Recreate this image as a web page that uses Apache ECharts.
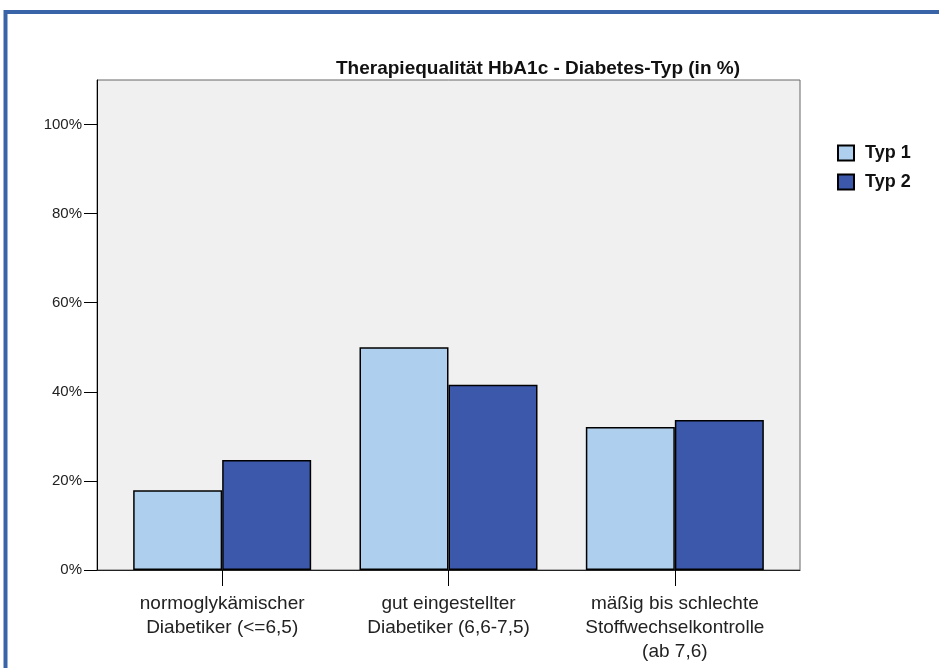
<!DOCTYPE html>
<html lang="de">
<head>
  <meta charset="UTF-8">
  <title>Therapiequalität HbA1c</title>
  <style>
    html, body { margin: 0; padding: 0; background: #fff; }
    #chart { width: 939px; height: 668px; }
  </style>
</head>
<body>
  <div id="chart"></div>
  <script src="https://cdn.jsdelivr.net/npm/echarts@6/dist/echarts.min.js"></script>
  <script>
  // Werte in Prozent
  let categories = [
    'normoglykämischer\nDiabetiker (<=6,5)',
    'gut eingestellter\nDiabetiker (6,6-7,5)',
    'mäßig bis schlechte\nStoffwechselkontrolle\n(ab 7,6)'
  ]
  let typ1 = [17.9, 50.0, 32.1]
  let typ2 = [24.7, 41.6, 33.7]
  let yTicks = [0, 20, 40, 60, 80, 100]

  let font = "'Liberation Sans', Arial, sans-serif"
  let chart = echarts.init(document.getElementById('chart'))

  chart.setOption({
    animation: false,
    title: {
      text: 'Therapiequalität HbA1c - Diabetes-Typ (in %)',
      left: 533,
      top: 54,
      textAlign: 'center',
      textStyle: { fontFamily: font, fontSize: 19, fontWeight: 'bold', color: '#111' }
    },
    legend: {
      orient: 'vertical',
      left: 837,
      top: 144,
      padding: 0,
      icon: 'rect',
      itemWidth: 16,
      itemHeight: 15,
      itemGap: 11,
      textStyle: { fontFamily: font, fontSize: 18, fontWeight: 'bold', color: '#111',
        lineHeight: 15, padding: [0, 0, 0, 6] }
    },
    graphic: [
      {
        type: 'rect',
        shape: { x: 5.5, y: 12, width: 1200, height: 1200 },
        style: { fill: 'none', stroke: '#3a64a8', lineWidth: 4 },
        silent: true
      }
    ],
    grid: [
      // plot background + y axis
      { left: 97, top: 80, width: 703, height: 490, show: true,
        backgroundColor: '#f0f0f0', borderColor: '#666', borderWidth: 1 },
      // bars (inset a little like the original)
      { left: 109, top: 80, width: 679, height: 490 }
    ],
    xAxis: [
      {
        gridIndex: 0, type: 'value', min: 0, max: 1,
        axisLine: { show: true, lineStyle: { color: '#222', width: 1 } },
        axisTick: { show: false }, axisLabel: { show: false }, splitLine: { show: false }
      },
      {
        gridIndex: 1, type: 'category', data: categories,
        axisLine: { show: false },
        axisTick: { show: true, alignWithLabel: true, length: 16, lineStyle: { color: '#000' } },
        axisLabel: { interval: 0, margin: 22, fontFamily: font, fontSize: 19, lineHeight: 24, color: '#222' }
      }
    ],
    yAxis: [
      {
        gridIndex: 0, type: 'value', min: 0, max: 110,
        axisLine: { show: true, lineStyle: { color: '#000' } },
        axisTick: { show: true, length: 13, customValues: yTicks, lineStyle: { color: '#000' } },
        axisLabel: { customValues: yTicks, formatter: '{value}%', margin: 15,
          fontFamily: font, fontSize: 15, color: '#222' },
        splitLine: { show: false }
      },
      { gridIndex: 1, type: 'value', min: 0, max: 110, show: false, splitLine: { show: false } }
    ],
    series: [
      {
        name: 'Typ 1', type: 'bar', xAxisIndex: 1, yAxisIndex: 1, data: typ1,
        barWidth: 89, barGap: '0%',
        itemStyle: { color: '#aed0ee', borderColor: '#000', borderWidth: 1.5 }
      },
      {
        name: 'Typ 2', type: 'bar', xAxisIndex: 1, yAxisIndex: 1, data: typ2,
        barWidth: 89, barGap: '0%',
        itemStyle: { color: '#3c58ab', borderColor: '#000', borderWidth: 1.5 }
      }
    ]
  })
  </script>
</body>
</html>
